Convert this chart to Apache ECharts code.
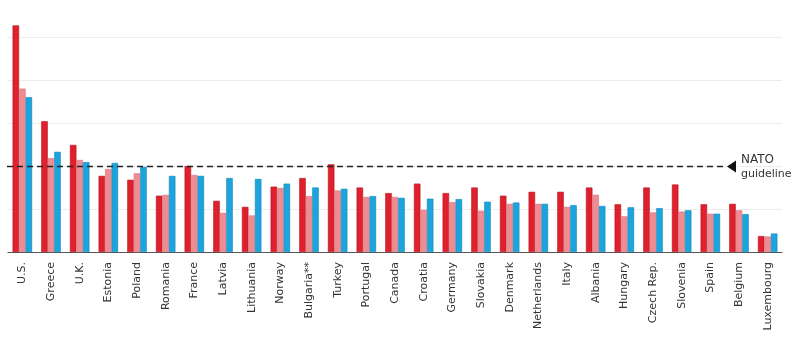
<!DOCTYPE html>
<html>
<head>
<meta charset="utf-8">
<script src="https://cdn.jsdelivr.net/npm/echarts@6/dist/echarts.min.js"></script>
<style>html,body{margin:0;padding:0;background:#fff}#c{width:800px;height:338px}</style>
</head>
<body>
<div id="c"></div>
<script>
const categories = ["U.S.","Greece","U.K.","Estonia","Poland","Romania","France","Latvia","Lithuania","Norway","Bulgaria**","Turkey","Portugal","Canada","Croatia","Germany","Slovakia","Denmark","Netherlands","Italy","Albania","Hungary","Czech Rep.","Slovenia","Spain","Belgium","Luxembourg"];
const seriesA = [5.27,3.04,2.49,1.77,1.68,1.31,2.00,1.19,1.05,1.52,1.72,2.04,1.50,1.37,1.59,1.37,1.50,1.31,1.40,1.40,1.50,1.11,1.50,1.57,1.11,1.12,0.37];
const seriesB = [3.80,2.18,2.14,1.93,1.83,1.33,1.79,0.91,0.85,1.49,1.30,1.43,1.28,1.28,0.98,1.16,0.96,1.12,1.12,1.05,1.33,0.83,0.92,0.94,0.89,0.97,0.36];
const seriesC = [3.60,2.33,2.09,2.07,1.98,1.77,1.77,1.72,1.70,1.59,1.50,1.47,1.30,1.26,1.24,1.23,1.17,1.15,1.12,1.09,1.07,1.04,1.02,0.97,0.89,0.88,0.43];
const guideline = 2;
const yTicks = [1,2,3,4,5];

const FONT = "DejaVu Sans";
const chart = echarts.init(document.getElementById('c'), null, {renderer:'canvas'});
function bar(name, data, color, border){
  return {name, type:'bar', data, barGap:'0%', barCategoryGap:'32%',
    itemStyle:{color, borderColor:border, borderWidth:0.6}, silent:true, animation:false};
}
chart.setOption({
  animation:false,
  grid:{left:8, right:18, top:15.5, bottom:86},
  xAxis:{type:'category', data:categories,
    axisLine:{lineStyle:{color:'#555', width:1.2}},
    axisTick:{show:false},
    axisLabel:{rotate:90, margin:10, color:'#333', fontFamily:FONT, fontSize:11, interval:0}},
  yAxis:{type:'value', min:0, max:5.5, interval:1,
    axisLabel:{show:false}, axisLine:{show:false}, axisTick:{show:false},
    splitLine:{show:true, showMinLine:false, showMaxLine:false, lineStyle:{color:'#ececec', width:1}}},
  series:[
    bar('A', seriesA, '#e0202d', '#b3161f'),
    bar('B', seriesB, '#ee8b93', '#d9737b'),
    bar('C', seriesC, '#1ca4dc', '#1487b8')
  ]
});
const gy = Math.round(chart.convertToPixel({yAxisIndex:0}, guideline)) + 0.5;
const tipX = 727;
chart.setOption({graphic:[
  {type:'line', z:100, shape:{x1:7, y1:gy, x2:tipX, y2:gy}, style:{stroke:'#222', lineWidth:1.3, lineDash:[6,4]}},
  {type:'polygon', z:100, shape:{points:[[tipX, gy], [tipX+9, gy-6], [tipX+9, gy+6]]}, style:{fill:'#111'}},
  {type:'text', z:100, x:741, y:gy-7, style:{text:'NATO', font:'12px '+FONT, fill:'#333', textVerticalAlign:'middle'}},
  {type:'text', z:100, x:741, y:gy+8, style:{text:'guideline', font:'11px '+FONT, fill:'#333', textVerticalAlign:'middle'}}
]});
</script>
</body>
</html>
